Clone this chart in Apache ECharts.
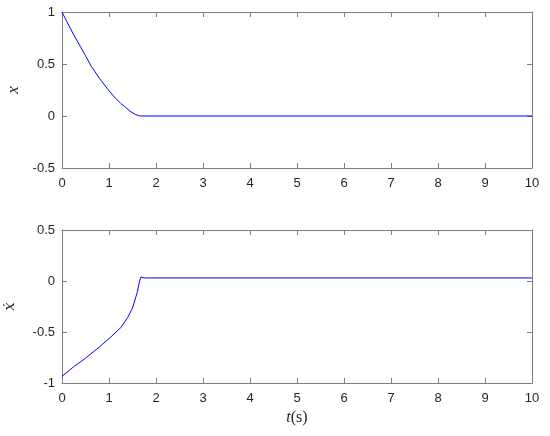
<!DOCTYPE html>
<html>
<head>
<meta charset="utf-8">
<script src="https://cdn.jsdelivr.net/npm/echarts@6/dist/echarts.min.js"></script>
<style>html,body{margin:0;padding:0;background:#fff}#c{width:550px;height:436px}</style>
</head>
<body>
<div id="c"></div>
<script>
// Top plot: position x(t)
const tPos = [0, 0.1, 0.25, 0.4, 0.5, 0.62, 0.8, 0.97, 1.1, 1.25, 1.33, 1.45, 1.57, 1.65, 2, 4, 6, 8, 10];
const xPos = [1, 0.91, 0.78, 0.66, 0.58, 0.48, 0.36, 0.26, 0.19, 0.12, 0.093, 0.045, 0.013, 0, 0, 0, 0, 0, 0];
// Bottom plot: velocity xdot(t)
const tVel = [0, 0.25, 0.5, 0.8, 1.0, 1.25, 1.4, 1.5, 1.6, 1.65, 1.68, 1.75, 4, 7, 10];
const xVel = [-0.935, -0.84, -0.757, -0.645, -0.565, -0.458, -0.355, -0.265, -0.113, 0, 0.039, 0.03, 0.03, 0.03, 0.03];
const xTicks = [0,1,2,3,4,5,6,7,8,9,10];

const frame = '#7f7f7f';
const tickFont = {color:'#262626', fontSize:13, fontFamily:'Liberation Sans, Arial, sans-serif'};

function baseX(gi, pos, labels, extra){
  return Object.assign({
    type:'value', gridIndex:gi, position:pos, min:0, max:10, interval:1,
    axisLine:{show:true, onZero:false, lineStyle:{color:frame, width:1}},
    axisTick:{show:true, inside:true, length:5, lineStyle:{color:frame}},
    axisLabel:{show:labels, margin:9, ...tickFont},
    splitLine:{show:false}
  }, extra||{});
}
function baseY(gi, pos, labels, min, max, extra){
  return Object.assign({
    type:'value', gridIndex:gi, position:pos, min:min, max:max, interval:0.5,
    axisLine:{show:true, onZero:false, lineStyle:{color:frame, width:1}},
    axisTick:{show:true, inside:true, length:5, lineStyle:{color:frame}},
    axisLabel:{show:labels, margin:7, ...tickFont},
    splitLine:{show:false}
  }, extra||{});
}

const chart = echarts.init(document.getElementById('c'), null, {renderer:'canvas'});
chart.setOption({
  animation:false,
  grid:[
    {left:62, right:18, top:12, height:156, outerBoundsMode:'none', containLabel:false},
    {left:62, right:18, top:230, height:153, outerBoundsMode:'none', containLabel:false}
  ],
  xAxis:[
    baseX(0,'bottom',true),
    baseX(0,'top',false),
    baseX(1,'bottom',true,{
      name:'{i|t}{r|(s)}', nameLocation:'middle', nameGap:27,
      nameTextStyle:{rich:{
        i:{fontFamily:'Liberation Serif, DejaVu Serif, serif', fontStyle:'italic', fontSize:16, color:'#262626'},
        r:{fontFamily:'Liberation Serif, DejaVu Serif, serif', fontSize:16, color:'#262626'}
      }}
    }),
    baseX(1,'top',false)
  ],
  yAxis:[
    baseY(0,'left',true,-0.5,1,{
      name:'x', nameLocation:'middle', nameGap:40,
      nameTextStyle:{fontFamily:'Liberation Serif, DejaVu Serif, serif', fontStyle:'italic', fontSize:17, color:'#262626'}
    }),
    baseY(0,'right',false,-0.5,1),
    baseY(1,'left',true,-1,0.5,{
      name:'\u1E8B', nameLocation:'middle', nameGap:44,
      nameTextStyle:{fontFamily:'DejaVu Serif, Liberation Serif, serif', fontStyle:'italic', fontSize:15, color:'#262626'}
    }),
    baseY(1,'right',false,-1,0.5)
  ],
  series:[
    {type:'line', xAxisIndex:0, yAxisIndex:0, data:tPos.map((t,i)=>[t,xPos[i]]),
     showSymbol:false, symbol:'none', lineStyle:{color:'#0000ff', width:1}},
    {type:'line', xAxisIndex:2, yAxisIndex:2, data:tVel.map((t,i)=>[t,xVel[i]]),
     showSymbol:false, symbol:'none', lineStyle:{color:'#0000ff', width:1}}
  ]
});
</script>
</body>
</html>
